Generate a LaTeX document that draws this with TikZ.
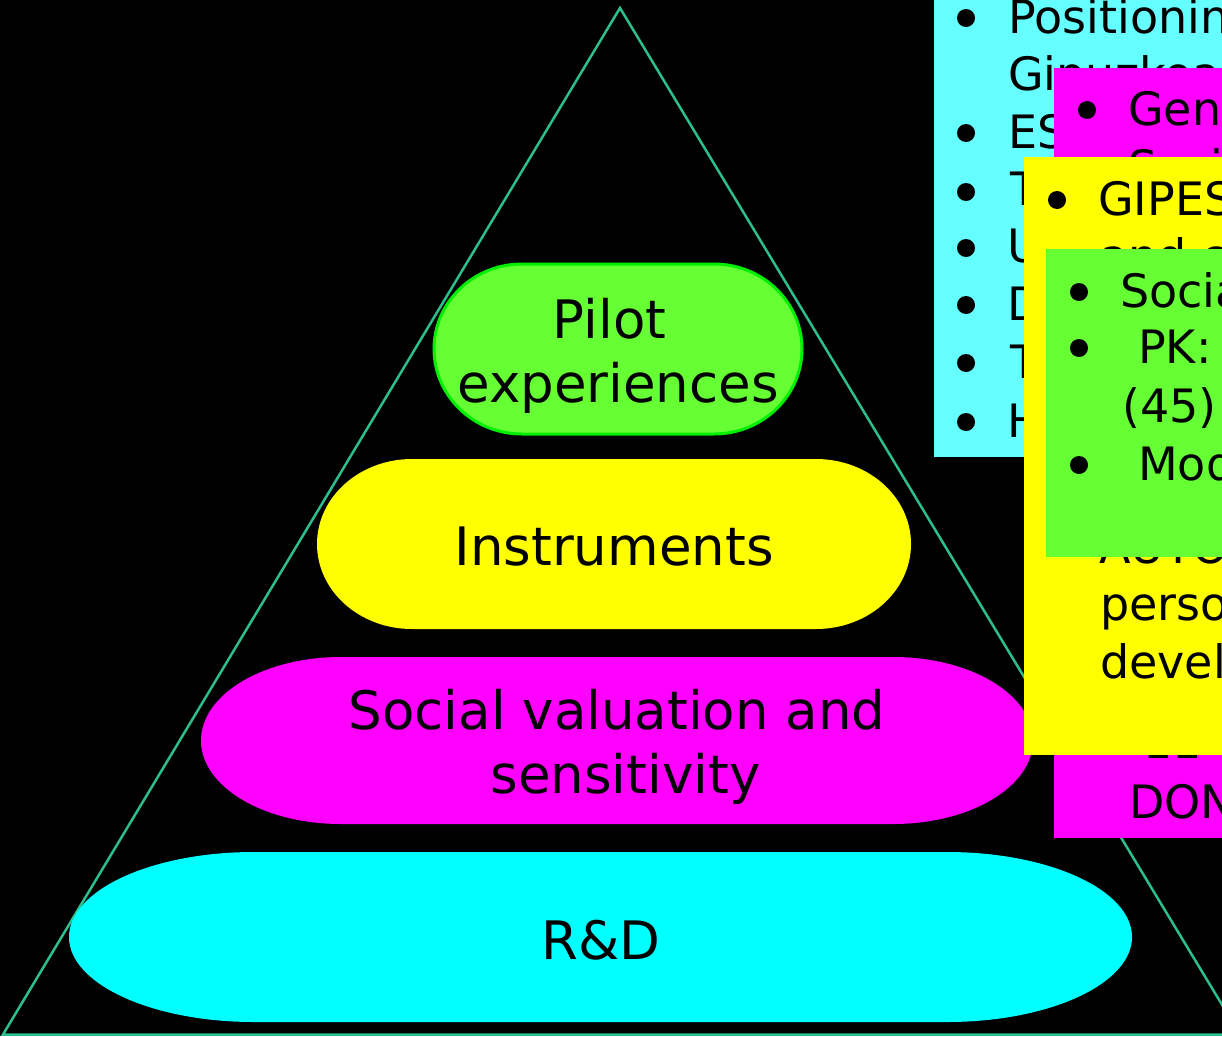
\documentclass[tikz,border=0pt]{standalone}
\usepackage{fontspec}
\setmainfont{DejaVu Sans}
\definecolor{tricol}{RGB}{45,190,140}
\definecolor{boxcyan}{RGB}{102,255,255}
\definecolor{pillcyan}{RGB}{0,255,255}
\definecolor{mag}{RGB}{255,0,255}
\definecolor{yel}{RGB}{255,255,0}
\definecolor{grn}{RGB}{102,255,51}
\definecolor{grnborder}{RGB}{0,238,0}
\newcommand\pillfont{\fontsize{53}{64}\selectfont}
\newcommand\boxfont{\fontsize{46}{57.5}\selectfont}
\tikzset{
  pilltext/.style={align=center, inner sep=0pt, text=black, font=\pillfont},
  boxtext/.style={anchor=base west, inner sep=0pt, text=black, font=\boxfont},
  tri/.style={draw=tricol, line width=2.5pt, line join=miter},
}
\begin{document}
\begin{tikzpicture}[x=1pt,y=-1pt]
\useasboundingbox (0,0) rectangle (1222,1036);
\fill[black] (0,0) rectangle (1222,1036);
\clip (0,0) rectangle (1222,1036);
% triangle
\draw[tri] (620,8) -- (3,1034.5) -- (1240,1034.5) -- cycle;
% pills
\fill[draw=grnborder, line width=3pt, fill=grn] (434+88,264) -- (802-88,264)
  arc[start angle=90, end angle=-90, x radius=88pt, y radius=85pt]
  -- (434+88,434)
  arc[start angle=270, end angle=90, x radius=88pt, y radius=85pt] -- cycle;
\node[pilltext] (pilot) at (618,356) {Pilot\kern0.32em \\ experiences};
\fill[yel] (317+95,459) -- (911-95,459)
  arc[start angle=90, end angle=-90, x radius=95pt, y radius=85pt]
  -- (317+95,629)
  arc[start angle=270, end angle=90, x radius=95pt, y radius=85pt] -- cycle;
\node[pilltext] (instr) at (614,547) {Instruments};
\fill[mag] (201+140,657) -- (1033-140,657)
  arc[start angle=90, end angle=-90, x radius=140pt, y radius=83.5pt]
  -- (201+140,824)
  arc[start angle=270, end angle=90, x radius=140pt, y radius=83.5pt] -- cycle;
\node[pilltext] (social) at (617,747) {Social valuation and \\ \kern0.32em sensitivity};
\fill[pillcyan] (69+185,852) -- (1132-185,852)
  arc[start angle=90, end angle=-90, x radius=185pt, y radius=85pt]
  -- (69+185,1022)
  arc[start angle=270, end angle=90, x radius=185pt, y radius=85pt] -- cycle;
\node[pilltext] (rd) at (601,940) {R\&D};
% cyan box
\fill[boxcyan] (934,-2) rectangle (1230,457);
\foreach \y in {18,133,192,248,305,363,422} \fill[black] (966,\y) circle (9pt);
\node[boxtext] (c1) at (1008,33) {Positioning};
\node[boxtext] (c2) at (1008,90) {Gipuzkoa};
\node[boxtext] (c3) at (1008,148) {ES};
\node[boxtext] (c4) at (1010,205) {T};
\node[boxtext] (c5) at (1007,262) {U};
\node[boxtext] (c6) at (1007,320) {D};
\node[boxtext] (c7) at (1010,378) {T};
\node[boxtext] (c8) at (1007,437) {H};
% magenta box
\fill[mag] (1054,68) rectangle (1230,838);
\fill[black] (1087,110) circle (9pt);
\node[boxtext] (m1) at (1128,125) {Gen};
\node[boxtext] (m2) at (1128,183) {Soci};
\node[boxtext] (m3) at (1143,758) {11};
\node[boxtext] (m4) at (1129,818) {DONOSTIA};
% yellow box
\fill[yel] (1024,157) rectangle (1230,755);
\fill[black] (1057,200) circle (9pt);
\node[boxtext] (y1) at (1098,215) {GIPES};
\node[boxtext] (y2) at (1100,272) {and c};
\node[boxtext] (y3) at (1099,563) {AUTO};
\node[boxtext] (y4) at (1100,620) {personal};
\node[boxtext] (y5) at (1100,678) {development};
% green box
\fill[grn] (1046,249) rectangle (1230,557);
\foreach \y in {292,348,465} \fill[black] (1079,\y) circle (9pt);
\node[boxtext] (g1) at (1120,307) {Social};
\node[boxtext] (g2) at (1138,363) {PK:};
\node[boxtext] (g3) at (1122,422) {(45)};
\node[boxtext] (g4) at (1138,480) {Model};
\end{tikzpicture}
\end{document}
